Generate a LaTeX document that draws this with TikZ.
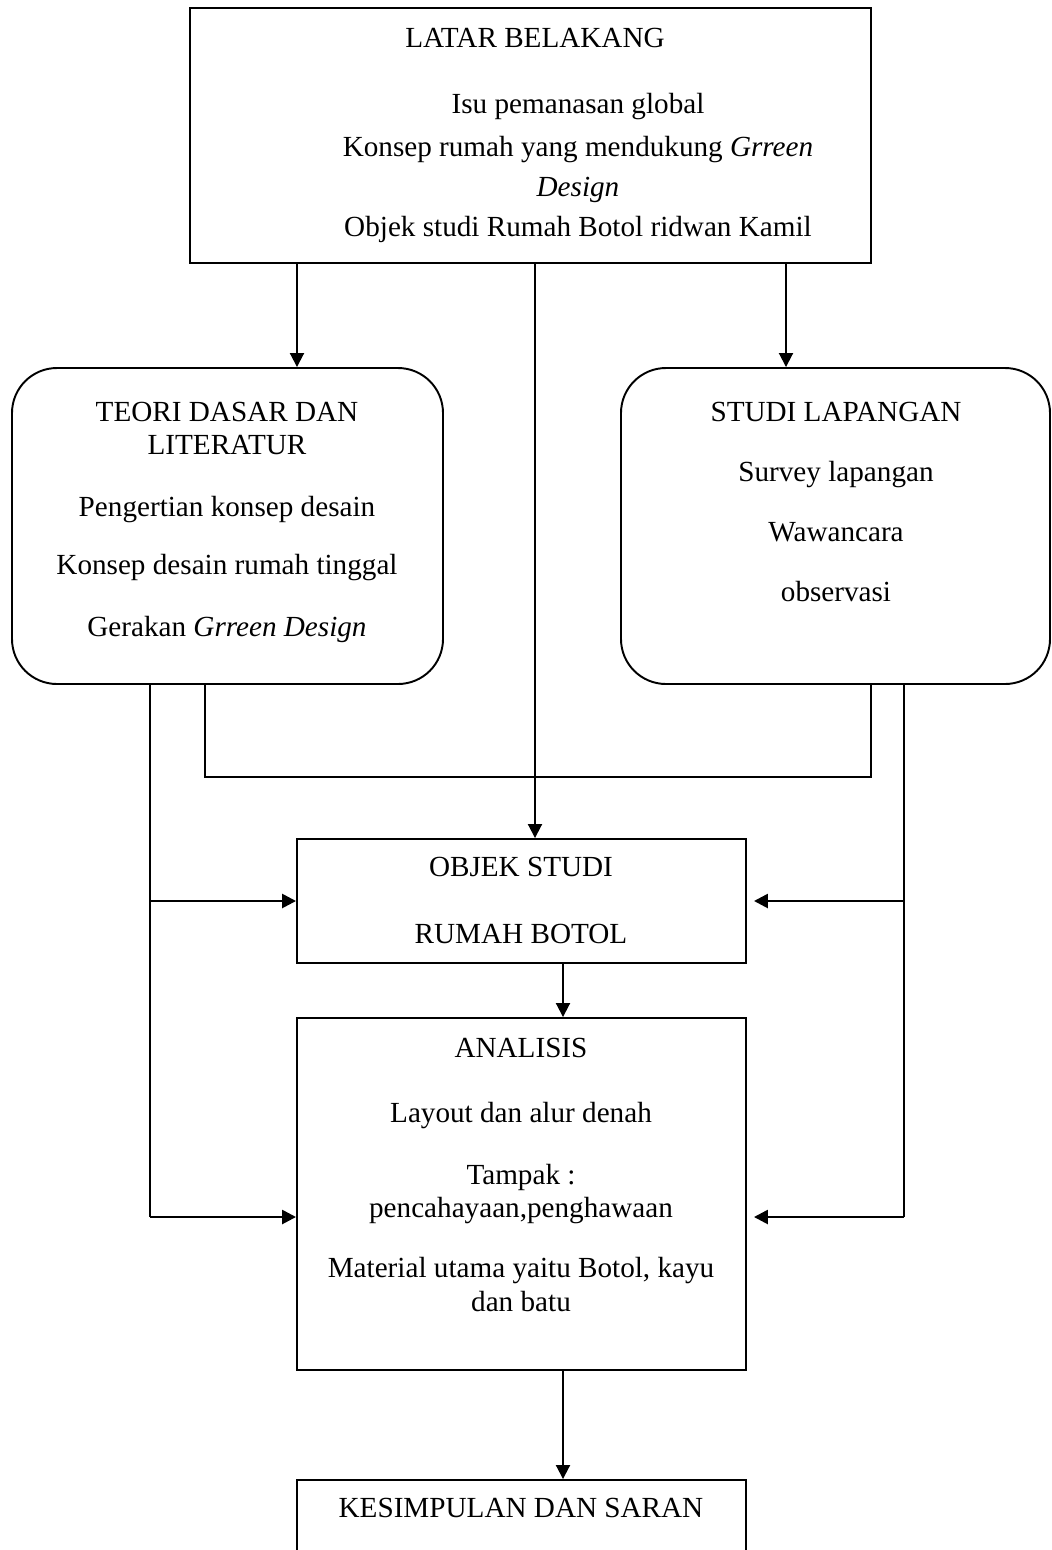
\documentclass[tikz,border=0pt]{standalone}
\usepackage{fontspec}
\setmainfont{Liberation Serif}
\usetikzlibrary{arrows.meta}

\tikzset{
	box/.style={draw, line width=1.1pt, inner sep=0pt},
	roundbox/.style={box, rounded corners=9mm},
	txt/.style={anchor=base, inner sep=0pt, font=\fontsize{16.6}{19}\selectfont},
	link/.style={line width=1.1pt},
	arr/.style={link, -{Triangle[width=2.8mm,length=2.8mm]}},
	side/.style={arr, line width=1.5pt}
}

\begin{document}
\begin{tikzpicture}[x=0.2mm,y=-0.2mm]
		\clip (0,0) rectangle (1052,1550);
		
		% boxes
		\node[box, minimum width=136.2mm, minimum height=51mm] (latar) at (530.5,135.5) {};
		\node[roundbox, minimum width=86.2mm, minimum height=63.2mm] (teori) at (227.5,526) {};
		\node[roundbox, minimum width=85.8mm, minimum height=63.2mm] (studi) at (835.5,526) {};
		\node[box, minimum width=89.8mm, minimum height=24.8mm] (objek) at (521.5,901) {};
		\node[box, minimum width=89.8mm, minimum height=70.4mm] (analisis) at (521.5,1194) {};
		\node[box, minimum width=89.8mm, minimum height=30mm] (simpul) at (521.5,1555) {};
		
		% texts
		\node[txt] (latarT) at (535,47) {LATAR BELAKANG};
		\foreach \t/\y [count=\i] in {Isu pemanasan global/113,
			Konsep rumah yang mendukung \textit{Grreen}/156,
			\textit{Design}/196,
			Objek studi Rumah Botol ridwan Kamil/236}
		\node[txt] (latar\i) at (578,\y) {\t};
		
		\foreach \t/\y [count=\i] in {TEORI DASAR DAN/421, LITERATUR/454,
			Pengertian konsep desain/516, Konsep desain rumah tinggal/574,
			Gerakan \textit{Grreen Design}/636}
		\node[txt] (teori\i) at (227,\y) {\t};
		
		\foreach \t/\y [count=\i] in {STUDI LAPANGAN/421, Survey lapangan/481,
			Wawancara/541, observasi/601}
		\node[txt] (studi\i) at (836,\y) {\t};
		
		\foreach \t/\y [count=\i] in {OBJEK STUDI/876, RUMAH BOTOL/943}
		\node[txt] (objek\i) at (521,\y) {\t};
		
		\foreach \t/\y [count=\i] in {ANALISIS/1057, Layout dan alur denah/1122,
			Tampak :/1184, {pencahayaan,penghawaan}/1217,
			{Material utama yaitu Botol, kayu}/1277, dan batu/1311}
		\node[txt] (analisis\i) at (521,\y) {\t};
		
		\node[txt] (simpulT) at (521,1517) {KESIMPULAN DAN SARAN};
		
		% connectors
		\coordinate (colA) at (297,0);
		\coordinate (colB) at (535,0);
		\coordinate (colC) at (786,0);
		\coordinate (colD) at (563,0);
		\coordinate (jL) at (205,777);
		\coordinate (jR) at (871,777);
		\coordinate (tL) at (150,1217);
		\coordinate (tR) at (904,1217);
		
		\draw[arr] (latar.south -| colA) -- (teori.north -| colA);
		\draw[arr] (latar.south -| colB) -- (objek.north -| colB);
		\draw[arr] (latar.south -| colC) -- (studi.north -| colC);
		\draw[link] (teori.south -| jL) -- (jL) -- (jR) -- (studi.south -| jR);
		\draw[link] (teori.south -| tL) -- (tL);
		\draw[link] (studi.south -| tR) -- (tR);
		\draw[side] (objek.west -| tL) -- (objek.west);
		\draw[side] (tL) -- (tL -| analisis.west);
		\draw[side, shorten >=1.4mm] (objek.east -| tR) -- (objek.east);
		\draw[side, shorten >=1.4mm] (tR) -- (tR -| analisis.east);
		\draw[arr] (objek.south -| colD) -- (analisis.north -| colD);
		\draw[arr] (analisis.south -| colD) -- (simpul.north -| colD);
\end{tikzpicture}
\end{document}
